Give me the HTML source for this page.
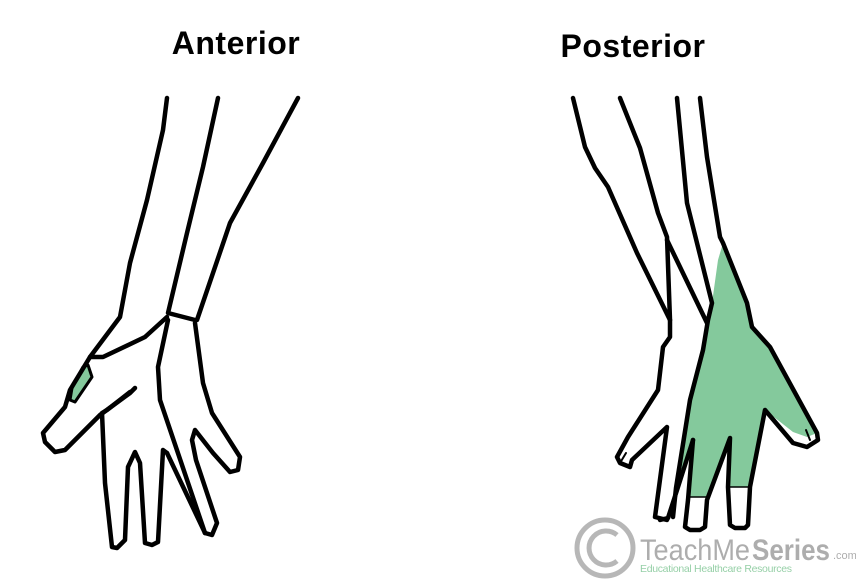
<!DOCTYPE html>
<html><head><meta charset="utf-8"><style>
html,body{margin:0;padding:0;background:#fff;}
svg{display:block;}
</style></head><body>
<svg width="856" height="582" viewBox="0 0 856 582" xmlns="http://www.w3.org/2000/svg">
<rect width="856" height="582" fill="#fff"/>
<text x="236" y="54" font-family="Liberation Sans, sans-serif" font-weight="bold" font-size="32" letter-spacing="0.5" text-anchor="middle">Anterior</text>
<text x="633" y="57" font-family="Liberation Sans, sans-serif" font-weight="bold" font-size="32" letter-spacing="0.5" text-anchor="middle">Posterior</text>

<g fill="none" stroke="#000" stroke-width="4.5" stroke-linejoin="round" stroke-linecap="round">
<!-- Anterior -->
<polygon points="88,365 92,377 75,402 70,400 72,388 83,367" fill="#84c99c" stroke-width="3"/>
<polyline points="167,98 163,130 147,200 130,263 120,317 90,357 70,390 65,407 43,433 45,442 55,452 65,450 100,415 130,393 135,388"/>
<polyline points="90,357 103,357 145,337 167,317"/>
<polyline points="218,98 203,167 187,233 168,313 195,320"/>
<polyline points="298,98 263,163 230,223 197,320"/>
<polyline points="195,323 203,383 212,413 240,457 238,470 230,472 213,453 195,430 192,440 196,460 217,523 212,535 205,533"/>
<polyline points="168,320 158,367 160,400 205,533"/>
<polyline points="167,453 163,450 158,542 152,545 145,543 140,463 135,452 128,467 125,540 117,548 112,547 105,483 102,413 107,410 130,392"/>
<line x1="167" y1="453" x2="205" y2="533"/>

<!-- Posterior -->
<polygon points="723,243 747,303 752,327 770,347 817,433 807,437 793,432 765,410 750,487 728,487 730,438 707,497 688,497 693,440 678,487 676,488 690,400 703,350 708,320 712,303 718,260" fill="#84c99c" stroke="none"/>
<polyline points="573,98 585,147 595,168 608,187 637,253 670,320 670,337 663,347 658,390 628,437 617,457 620,463 630,467 632,460 667,427 655,517 667,520"/>
<line x1="620" y1="463" x2="626" y2="453" stroke-width="2"/>
<polyline points="620,98 640,148 658,213 667,237 670,320"/>
<polyline points="667,240 707,323"/>
<polyline points="677,98 687,203 712,303 708,320 703,350 690,400 676,488 673,517"/>
<polyline points="693,440 678,487 668,518 660,520"/>
<polyline points="693,440 688,500 685,527 690,530 700,530 705,527 707,500 730,438 728,487 730,525 735,528 745,528 748,525 750,487 765,410 793,443 807,447 818,440 817,433 770,347 752,327 747,303 723,243 720,237 707,157 700,98"/>
<line x1="688" y1="497" x2="707" y2="497" stroke-width="1.5"/>
<line x1="728" y1="487" x2="750" y2="487" stroke-width="1.5"/>
<line x1="806" y1="430" x2="810" y2="440" stroke-width="2"/>
</g>

<!-- watermark -->
<g opacity="0.6">
<circle cx="605" cy="548" r="28" fill="none" stroke="#888" stroke-width="5"/>
<path d="M617 535 A17 17 0 1 0 617 561" fill="none" stroke="#888" stroke-width="5"/>
<text x="640" y="560" font-family="Liberation Sans, sans-serif" font-size="30" fill="#777" textLength="110" lengthAdjust="spacingAndGlyphs">TeachMe</text>
<text x="752" y="560" font-family="Liberation Sans, sans-serif" font-weight="bold" font-size="30" fill="#777" textLength="78" lengthAdjust="spacingAndGlyphs">Series</text>
<text x="833" y="559" font-family="Liberation Sans, sans-serif" font-size="11" fill="#777">.com</text>
<text x="640" y="572" font-family="Liberation Sans, sans-serif" font-size="10.5" fill="#4fb06c" textLength="152">Educational Healthcare Resources</text>
</g>
</svg>
</body></html>
